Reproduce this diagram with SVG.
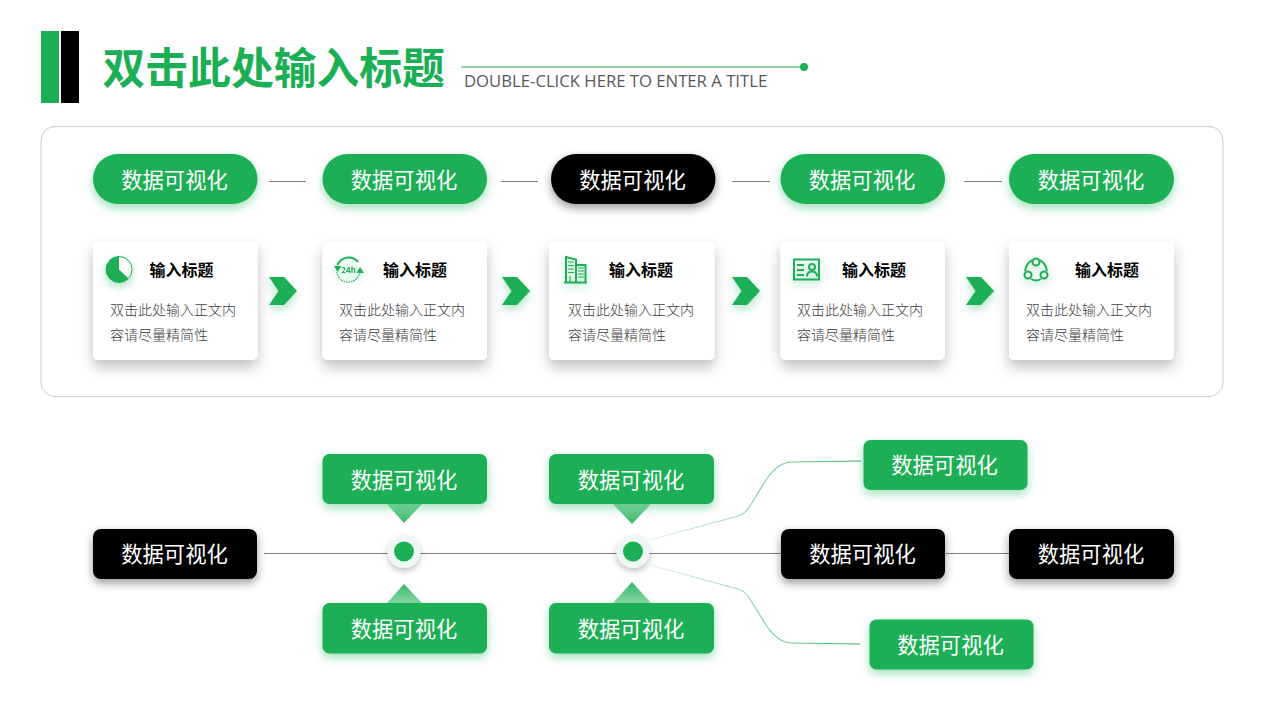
<svg xmlns="http://www.w3.org/2000/svg" width="1280" height="720" viewBox="0 0 1280 720">
<style>
text{font-family:"Noto Sans CJK SC","Noto Sans",sans-serif}
.lab{font-size:21.3px;font-weight:400;fill:#fff;text-anchor:middle}
.ct{font-size:16px;font-weight:700;fill:#000}
.cb{font-size:14px;font-weight:300;fill:#404040}
.g{fill:#1aaf54}.k{fill:#000}
.gs{filter:url(#gs)}.ks{filter:url(#ks)}.cs{filter:url(#cs)}
.ln{stroke:#7f7f7f;stroke-width:1;fill:none}
.ic{fill:none;stroke:#1aaf54;stroke-width:2}
.it{fill:none;stroke:#1aaf54;stroke-width:1.200}
</style>
<defs>
<filter id="gs" x="-30%" y="-50%" width="160%" height="220%"><feDropShadow dx="0" dy="4" stdDeviation="5" flood-color="#1aaf54" flood-opacity=".4"/></filter>
<filter id="ks" x="-30%" y="-50%" width="160%" height="220%"><feDropShadow dx="0" dy="4" stdDeviation="5" flood-color="#000" flood-opacity=".4"/></filter>
<filter id="cs" x="-30%" y="-30%" width="160%" height="170%"><feDropShadow dx="0" dy="7" stdDeviation="7" flood-color="#000" flood-opacity=".25"/></filter>
<filter id="ig" x="-60%" y="-60%" width="220%" height="240%"><feDropShadow dx="0" dy="4" stdDeviation="4" flood-color="#1aaf54" flood-opacity=".35"/></filter>
<filter id="hs" x="-60%" y="-60%" width="220%" height="220%"><feDropShadow dx="0" dy="3" stdDeviation="3" flood-color="#000" flood-opacity=".25"/></filter>
<linearGradient id="td" x1="0" y1="0" x2="0" y2="1"><stop offset="0" stop-color="#1aaf54" stop-opacity=".5"/><stop offset="1" stop-color="#1aaf54" stop-opacity=".9"/></linearGradient>
<linearGradient id="tu" x1="0" y1="1" x2="0" y2="0"><stop offset="0" stop-color="#1aaf54" stop-opacity=".5"/><stop offset="1" stop-color="#1aaf54" stop-opacity=".9"/></linearGradient>
<linearGradient id="fade1" gradientUnits="userSpaceOnUse" x1="650" y1="0" x2="860" y2="0"><stop offset="0" stop-color="#1aaf54" stop-opacity=".1"/><stop offset=".6" stop-color="#1aaf54" stop-opacity=".6"/><stop offset="1" stop-color="#1aaf54" stop-opacity=".9"/></linearGradient>
</defs>
<g id="header">
<rect x="41" y="31" width="18" height="72" class="g"/>
<rect x="61" y="31" width="18" height="72" class="k"/>
<text x="102.500" y="84" font-size="42.800" font-weight="700" fill="#1aaf54">双击此处输入标题</text>
<line x1="461" y1="67" x2="804" y2="67" stroke="#1aaf54" stroke-width="1"/>
<circle cx="804" cy="67" r="4" class="g"/>
<text x="464" y="86.500" font-size="16.700" fill="#595959" style="font-family:'Open Sans','Noto Sans',sans-serif">DOUBLE-CLICK HERE TO ENTER A TITLE</text>
</g>
<rect id="panel" x="41" y="126.500" width="1182" height="270" rx="14" fill="#fff" stroke="#c8d0cc"/>
<g id="connectors">
<path class="ln" d="M269 181.500H306M501 181.500H538M732 181.500H770M964 181.500H1002"/>
<path class="ln" d="M264 553.500H1009"/>
<path d="M650 540L738 516Q745 514 750 506L766 480Q778 462 792 462L861 461" fill="none" stroke="url(#fade1)" stroke-width="1.200"/>
<path d="M650 565L738 589Q745 591 750 599L766 625Q778 643 792 643L860 644" fill="none" stroke="url(#fade1)" stroke-width="1.200"/>
</g>
<g id="pill1"><rect x="93" y="154" width="164.500" height="50" rx="25" class="g gs"/><text x="174.500" y="187.500" class="lab">数据可视化</text></g>
<g id="pill2"><rect x="322.500" y="154" width="164.500" height="50" rx="25" class="g gs"/><text x="404" y="187.500" class="lab">数据可视化</text></g>
<g id="pill3"><rect x="551" y="154" width="164.500" height="50" rx="25" class="k ks"/><text x="632.500" y="187.500" class="lab">数据可视化</text></g>
<g id="pill4"><rect x="780.500" y="154" width="164.500" height="50" rx="25" class="g gs"/><text x="862" y="187.500" class="lab">数据可视化</text></g>
<g id="pill5"><rect x="1009" y="154" width="165" height="50" rx="25" class="g gs"/><text x="1091" y="187.500" class="lab">数据可视化</text></g>
<g id="card1"><rect x="93" y="242" width="164.500" height="118" rx="5" fill="#fff" class="cs"/>
<g filter="url(#ig)"><circle cx="119" cy="269.500" r="13" fill="#fff" stroke="#1aaf54" stroke-width="1"/><path d="M119 269.500L119 256.500A13 13 0 1 0 128.500 278.500Z" class="g"/></g>
<text x="149.500" y="276" class="ct">输入标题</text><text x="110" y="314.500" class="cb">双击此处输入正文内</text><text x="110" y="339.500" class="cb">容请尽量精简性</text></g>
<g id="card2"><rect x="322.500" y="242" width="164.500" height="118" rx="5" fill="#fff" class="cs"/>
<g filter="url(#ig)"><path class="ic" d="M337.500 265A12 12 0 0 1 358 262"/><path class="it" d="M360 272A12 12 0 0 1 340 279M337 272A12 12 0 0 0 340 279" stroke-dasharray="1.500 1"/><path class="g" d="M334 266H341.500L337.500 272ZM356.500 273H364L360 267Z"/><text x="348.500" y="272.500" font-size="8" font-weight="700" fill="#1aaf54" text-anchor="middle">24h</text></g>
<text x="383" y="276" class="ct">输入标题</text><text x="339" y="314.500" class="cb">双击此处输入正文内</text><text x="339" y="339.500" class="cb">容请尽量精简性</text></g>
<g id="card3"><rect x="549" y="242" width="165.500" height="118" rx="5" fill="#fff" class="cs"/>
<g filter="url(#ig)"><path class="ic" d="M566 282V257L576 259.500V282M576 265H585.500V282M564 282.500H587"/><path class="it" d="M568 262H574M568 265.500H574M568 269H574M568 272.500H574M578 268H584M578 271H584M578 274H584M578 277H584M570 276V282"/></g>
<text x="609" y="276" class="ct">输入标题</text><text x="568" y="314.500" class="cb">双击此处输入正文内</text><text x="568" y="339.500" class="cb">容请尽量精简性</text></g>
<g id="card4"><rect x="780.500" y="242" width="164.500" height="118" rx="5" fill="#fff" class="cs"/>
<g filter="url(#ig)"><rect x="794" y="259.500" width="25" height="20" class="ic"/><path class="ic" stroke-width="1.500" d="M797 265H804M797 270H804M797 275H804M807 276.500Q807 271.500 812 271.500Q817 271.500 817 276.500"/><circle cx="812" cy="267" r="3" class="ic" stroke-width="1.500"/></g>
<text x="842" y="276" class="ct">输入标题</text><text x="797" y="314.500" class="cb">双击此处输入正文内</text><text x="797" y="339.500" class="cb">容请尽量精简性</text></g>
<g id="card5"><rect x="1009" y="242" width="165" height="118" rx="5" fill="#fff" class="cs"/>
<g filter="url(#ig)"><circle cx="1036" cy="262" r="3.500" class="ic"/><circle cx="1028" cy="275" r="3.500" class="ic"/><circle cx="1044" cy="275" r="3.500" class="ic"/><path class="ic" d="M1032 260Q1026 264 1025 271M1040 260Q1046 264 1047 271M1031 279Q1036 282 1041 279"/></g>
<text x="1075" y="276" class="ct">输入标题</text><text x="1026" y="314.500" class="cb">双击此处输入正文内</text><text x="1026" y="339.500" class="cb">容请尽量精简性</text></g>
<g id="arrows" filter="url(#ig)">
<path id="chev1" class="g" d="M269 277H284L297 291L284 305H269L278.500 291Z"/>
<path id="chev2" class="g" d="M502 277H517L530 291L517 305H502L511.500 291Z"/>
<path id="chev3" class="g" d="M732 277H747L760 291L747 305H732L741.500 291Z"/>
<path id="chev4" class="g" d="M966 277H981L994 291L981 305H966L975.500 291Z"/>
</g>
<g id="dot1"><circle cx="404" cy="551.500" r="16.500" fill="#eef8f2" filter="url(#hs)"/><circle cx="404" cy="551.500" r="10" class="g"/></g>
<g id="dot2"><circle cx="633" cy="551.500" r="16.500" fill="#eef8f2" filter="url(#hs)"/><circle cx="633" cy="551.500" r="10" class="g"/></g>
<g id="start"><rect x="93" y="529" width="164" height="50" rx="8" class="k ks"/><text x="174.500" y="562" class="lab">数据可视化</text></g>
<g id="call1"><path d="M387 504H422L404 523Z" fill="url(#td)"/><rect x="322.500" y="454" width="164.500" height="50" rx="7" class="g gs"/><text x="404" y="487.500" class="lab">数据可视化</text></g>
<g id="call2"><path d="M613 504H651L632 524Z" fill="url(#td)"/><rect x="549" y="454" width="165" height="50" rx="7" class="g gs"/><text x="631" y="487.500" class="lab">数据可视化</text></g>
<g id="call3"><path d="M387 603H422L404 584Z" fill="url(#tu)"/><rect x="322.500" y="603" width="164.500" height="50.500" rx="7" class="g gs"/><text x="404" y="636.500" class="lab">数据可视化</text></g>
<g id="call4"><path d="M613 603H651L632 582Z" fill="url(#tu)"/><rect x="549" y="603" width="165" height="50.500" rx="7" class="g gs"/><text x="631" y="636.500" class="lab">数据可视化</text></g>
<g id="top-r"><rect x="863.500" y="440" width="164" height="50" rx="7" class="g gs"/><text x="944.500" y="473" class="lab">数据可视化</text></g>
<g id="bot-r"><rect x="869.500" y="619.500" width="164" height="50" rx="7" class="g gs"/><text x="950.500" y="653" class="lab">数据可视化</text></g>
<g id="mid1"><rect x="781" y="529" width="164" height="50" rx="8" class="k ks"/><text x="862.500" y="562" class="lab">数据可视化</text></g>
<g id="mid2"><rect x="1009" y="529" width="165" height="50" rx="8" class="k ks"/><text x="1091" y="562" class="lab">数据可视化</text></g>
</svg>
